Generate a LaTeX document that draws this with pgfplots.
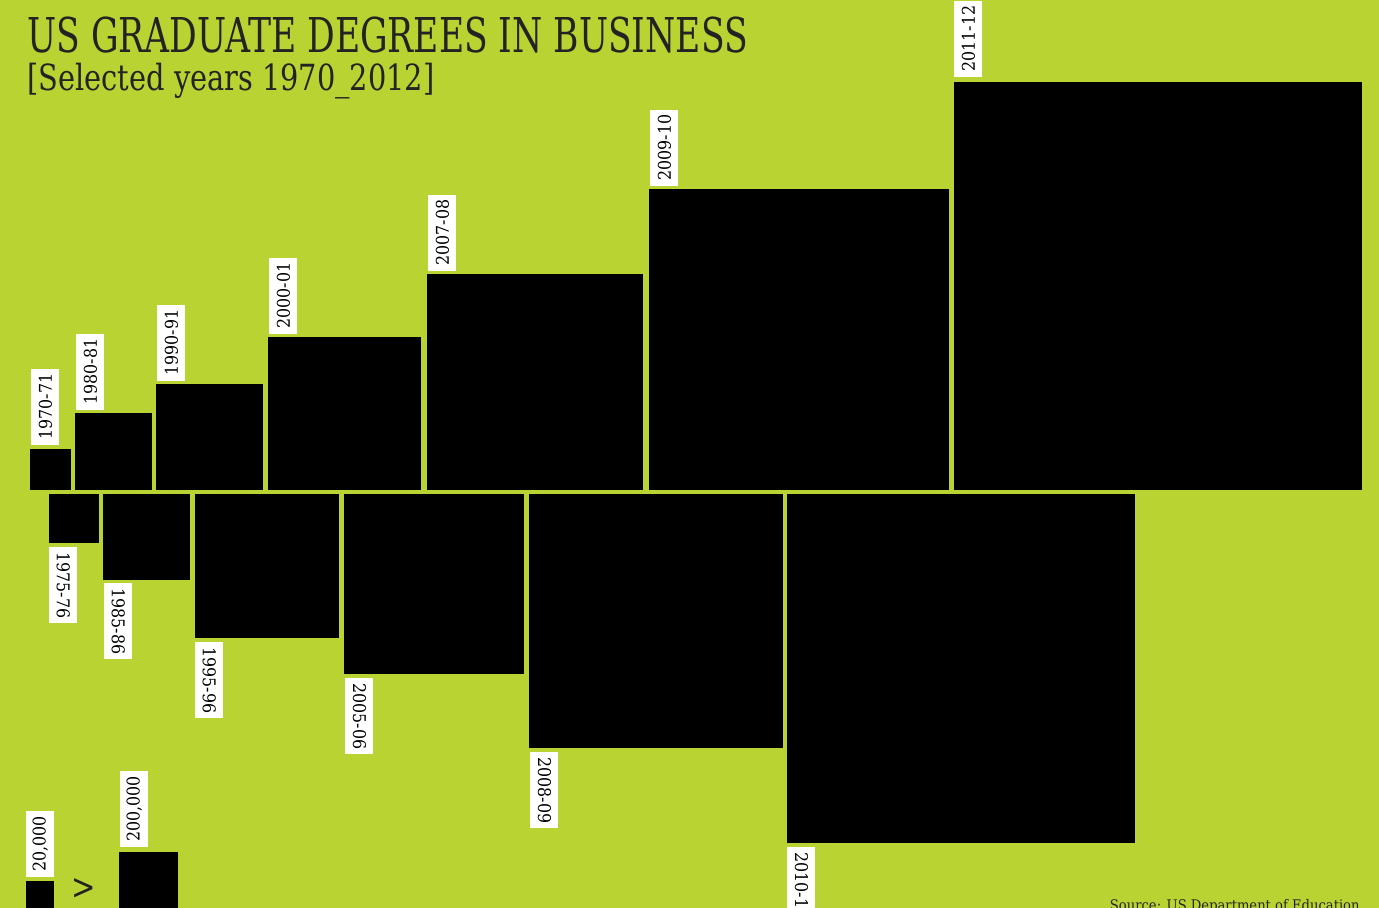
\documentclass[border=0pt]{standalone}
\usepackage{pgfplots}
\pgfplotsset{compat=1.18}
\usepackage{fontspec}
\setmainfont{DejaVu Serif Condensed}
\definecolor{bg}{RGB}{185,212,50}
\definecolor{ink}{RGB}{35,35,35}
\newcommand{\sq}[4]{\addplot[fill=black,draw=none] coordinates {(#1,#2) (#3,#2) (#3,#4) (#1,#4)} -- cycle;}
\tikzset{
  lab/.style={fill=white,text=black,inner xsep=2.5pt,inner ysep=0pt,minimum height=14pt,font=\fontsize{8.8}{10}\selectfont},
  up/.style={lab,rotate=90,anchor=north west},
  down/.style={lab,rotate=-90,anchor=south west}
}
\begin{document}
\begin{tikzpicture}
\begin{axis}[
  x=0.5pt, y=0.5pt, y dir=reverse,
  xmin=0, xmax=1379, ymin=0, ymax=908,
  axis lines=none, ticks=none, clip=true,
  scale only axis,
]
\fill[bg] (rel axis cs:0,0) rectangle (rel axis cs:1,1);
% upper row (baseline 490)
\sq{30}{449}{71}{490}
\sq{75}{413}{152}{490}
\sq{156}{384}{263}{490}
\sq{268}{337}{421}{490}
\sq{427}{274}{643}{490}
\sq{649}{189}{949}{490}
\sq{954}{82}{1362}{490}
% lower row (top 494)
\sq{49}{494}{99}{543}
\sq{103}{494}{190}{580}
\sq{195}{494}{339}{638}
\sq{344}{494}{524}{674}
\sq{529}{494}{783}{748}
\sq{787}{494}{1135}{843}
% legend squares
\sq{26}{881}{54}{915}
\sq{119}{852}{178}{915}
% labels
\node[up] at (axis cs:31,445) {1970-71};
\node[up] at (axis cs:76,410) {1980-81};
\node[up] at (axis cs:157,381) {1990-91};
\node[up] at (axis cs:269,334) {2000-01};
\node[up] at (axis cs:428,271) {2007-08};
\node[up] at (axis cs:650,186) {2009-10};
\node[up] at (axis cs:954,77) {2011-12};
\node[down] at (axis cs:49,547) {1975-76};
\node[down] at (axis cs:104,583) {1985-86};
\node[down] at (axis cs:195,642) {1995-96};
\node[down] at (axis cs:345,678) {2005-06};
\node[down] at (axis cs:530,752) {2008-09};
\node[down] at (axis cs:787,847) {2010-11};
\node[up] at (axis cs:26,877) {20,000};
\node[up] at (axis cs:120,847) {200,000};
\node[text=ink,font=\fontsize{18}{18}\selectfont,inner sep=0pt] at (axis cs:84,889) {\scalebox{0.9}[1]{>}};
\node[anchor=base west,text=ink,font=\fontsize{24}{24}\selectfont,inner sep=0pt] at (axis cs:27,53) {\scalebox{0.8}[1]{US GRADUATE DEGREES IN BUSINESS}};
\node[anchor=base west,text=ink,font=\fontsize{18}{18}\selectfont,inner sep=0pt] at (axis cs:27,91) {\scalebox{0.89}[1]{[Selected years 1970\_2012]}};
\node[anchor=base east,text=ink,font=\fontsize{7.3}{8}\selectfont,inner sep=0pt] at (axis cs:1360,910) {Source: US Department of Education};
\end{axis}
\pgfresetboundingbox
\path[use as bounding box] (current axis.south west) rectangle (current axis.north east);
\end{tikzpicture}
\end{document}
